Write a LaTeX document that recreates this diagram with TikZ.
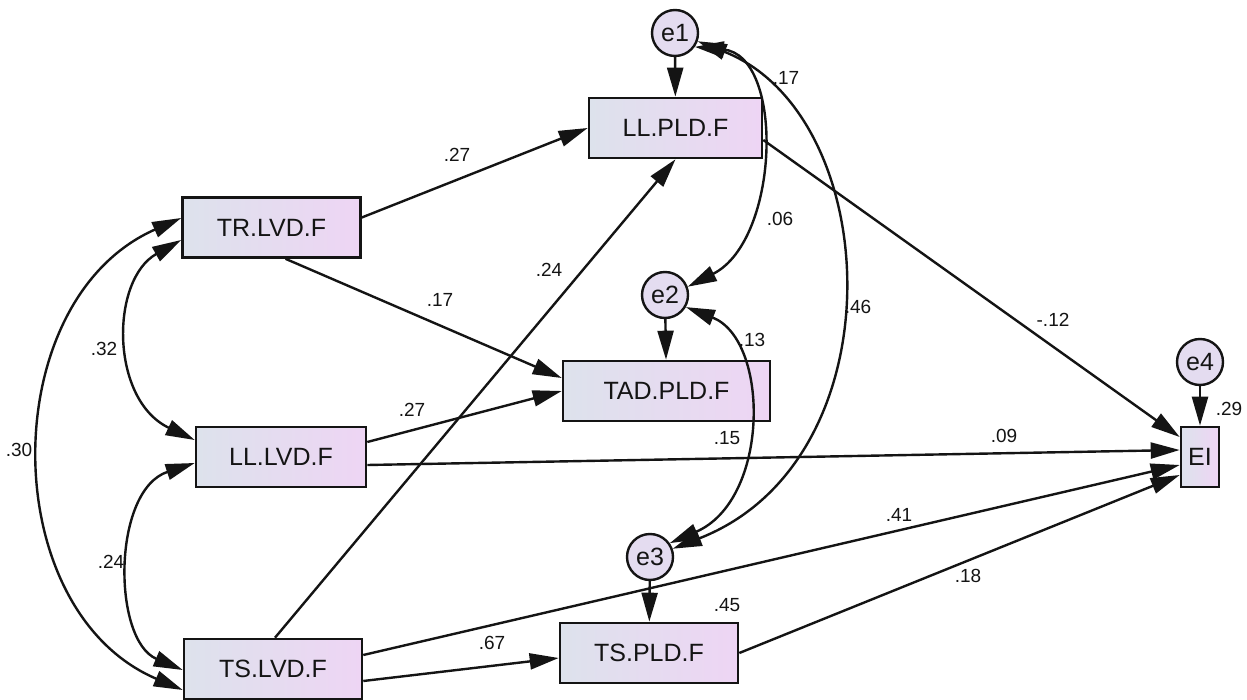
\documentclass[tikz,border=0pt]{standalone}
\usepackage{fontspec}
\setmainfont{Liberation Sans}
\usetikzlibrary{arrows.meta}
\definecolor{boxL}{RGB}{221,226,236}
\definecolor{boxR}{RGB}{238,213,244}
\definecolor{circF}{RGB}{228,220,240}
\definecolor{ink}{RGB}{20,20,20}
\begin{document}
\begin{tikzpicture}[x=1pt,y=-1pt,
  obs/.style={draw=ink,line width=2.6pt,left color=boxL,right color=boxR,
    minimum height=60pt,inner sep=0pt,text=ink,font=\fontsize{25}{30}\selectfont},
  err/.style={circle,draw=ink,line width=2.4pt,fill=circF,minimum size=46pt,
    inner sep=0pt,text=ink,font=\fontsize{25}{30}\selectfont},
  lbl/.style={text=ink,inner sep=0pt,font=\fontsize{19}{22}\selectfont},
  path/.style={draw=ink,line width=2.4pt,-{Triangle[length=29pt,width=16pt]}},
  cov/.style={draw=ink,line width=2.4pt,{Triangle[length=29pt,width=16pt]}-{Triangle[length=29pt,width=16pt]}}]
\useasboundingbox (0,0) rectangle (1247,700);
\fill[white] (0,0) rectangle (1247,700);
% observed variables
\node[obs,minimum width=173pt] (LLPLD) at (675.5,128) {LL.PLD.F};
\node[obs,minimum width=178pt] (TRLVD) at (271.5,227.5) {TR.LVD.F};
\node[obs,minimum width=207pt] (TADPLD) at (666.5,391) {TAD.PLD.F};
\node[obs,minimum width=170pt] (LLLVD) at (281,457) {LL.LVD.F};
\node[obs,minimum width=178pt] (TSLVD) at (273,669) {TS.LVD.F};
\node[obs,minimum width=178pt] (TSPLD) at (649,653) {TS.PLD.F};
\node[obs,minimum width=38pt] (EI) at (1200,457) {EI};
% errors
\node[err] (e1) at (675,33) {e1};
\node[err] (e2) at (665,295) {e2};
\node[err] (e3) at (650,557) {e3};
\node[err] (e4) at (1200,362) {e4};
% error paths
\draw[path] (e1) -- (LLPLD);
\draw[path] (e2) -- (TADPLD);
\draw[path] (e3) -- (TSPLD);
\draw[path] (e4) -- (EI);
% regression paths
\draw[path] ([yshift=10pt]TRLVD.east) -- (LLPLD.west);
\draw[path] ([xshift=14pt]TRLVD.south) -- ([yshift=13pt]TADPLD.west);
\draw[path] ([yshift=15pt]LLLVD.east) -- (TADPLD.west);
\draw[path] ([yshift=-8pt]LLLVD.east) -- ([yshift=7pt]EI.west);
\draw[path] ([xshift=2pt]TSLVD.north) -- (LLPLD.south);
\draw[path] ([yshift=14pt]TSLVD.east) -- ([yshift=-8pt]EI.west);
\draw[path] ([yshift=-12pt]TSLVD.east) -- ([yshift=-5pt]TSPLD.west);
\draw[path] (TSPLD.east) -- ([yshift=-18pt]EI.west);
\draw[path] ([yshift=-12pt]LLPLD.east) -- ([yshift=20pt]EI.west);
% covariances
\draw[cov] ([yshift=-12.5pt]TRLVD.west) .. controls (110,280) and (110,400) .. ([yshift=17pt]LLLVD.west);
\draw[cov] ([yshift=9.5pt]TRLVD.west) .. controls (-5,300) and (-5,610) .. ([yshift=-21pt]TSLVD.west);
\draw[cov] ([yshift=-6pt]LLLVD.west) .. controls (112,490) and (112,640) .. ([yshift=-1pt]TSLVD.west);
\draw[cov] (e1.-35) .. controls (785,55) and (780,240) .. (e2.20);
\draw[cov] (e1.-20) .. controls (885,115) and (900,460) .. (e3.20);
\draw[cov] (e2.-30) .. controls (770,340) and (770,500) .. (e3.35);
% labels
\node[lbl] (n1) at (786,78) {.17};
\node[lbl] (n2) at (457,155) {.27};
\node[lbl] (n3) at (780,219) {.06};
\node[lbl] (n4) at (549,270) {.24};
\node[lbl] (n5) at (440,300) {.17};
\node[lbl] (n6) at (858,307) {.46};
\node[lbl] (n7) at (752,340) {.13};
\node[lbl] (n8) at (1053,320) {-.12};
\node[lbl] (n9) at (104,349) {.32};
\node[lbl] (n10) at (1229,409) {.29};
\node[lbl] (n11) at (412,410) {.27};
\node[lbl] (n12) at (727,438) {.15};
\node[lbl] (n13) at (1004,436) {.09};
\node[lbl] (n14) at (19,450) {.30};
\node[lbl] (n15) at (899,515) {.41};
\node[lbl] (n16) at (111,562) {.24};
\node[lbl] (n17) at (968,576) {.18};
\node[lbl] (n18) at (727,605) {.45};
\node[lbl] (n19) at (492,643) {.67};
\end{tikzpicture}
\end{document}
